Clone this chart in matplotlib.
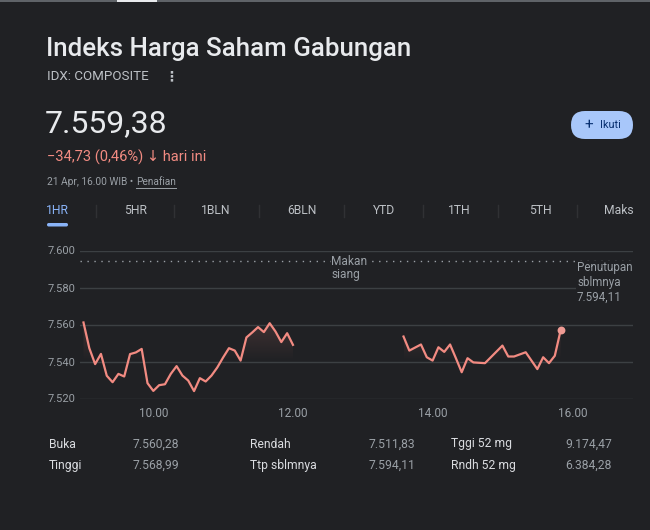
import matplotlib
matplotlib.use("Agg")
import matplotlib.pyplot as plt
import numpy as np
from matplotlib.patches import FancyBboxPatch, Rectangle
from matplotlib.path import Path
from matplotlib.patches import PathPatch

# data
pagi_jam = ["09:00", "09:05", "09:10", "09:15", "09:20", "09:25", "09:30", "09:35", "09:40",
            "09:45", "09:50", "09:55", "10:00", "10:05", "10:10", "10:15", "10:20", "10:25",
            "10:30", "10:35", "10:40", "10:45", "10:50", "10:55", "11:00", "11:05", "11:10",
            "11:15", "11:20", "11:25", "11:30", "11:35", "11:40", "11:45", "11:50", "11:55", "12:00"]
pagi_nilai = [7561.1, 7547.2, 7538.6, 7544.1, 7532.3, 7528.8, 7533.3, 7531.9, 7544.0,
              7544.9, 7546.8, 7528.3, 7524.1, 7527.2, 7527.7, 7533.3, 7537.5, 7532.4,
              7529.7, 7524.0, 7531.0, 7529.2, 7532.4, 7536.8, 7542.2, 7547.2, 7545.9,
              7540.5, 7553.0, 7555.7, 7558.6, 7555.9, 7560.7, 7556.2, 7550.5, 7555.3, 7549.0]
siang_jam = ["13:35", "13:40", "13:50", "13:55", "14:00", "14:05", "14:10", "14:15", "14:20",
             "14:25", "14:30", "14:35", "14:45", "15:00", "15:05", "15:10", "15:20", "15:30",
             "15:35", "15:40", "15:45", "15:50"]
siang_nilai = [7553.5, 7545.9, 7549.2, 7542.3, 7540.5, 7547.7, 7545.2, 7549.2, 7541.8,
               7534.2, 7541.8, 7539.5, 7539.1, 7548.6, 7542.7, 7542.7, 7545.0, 7535.9,
               7542.3, 7539.1, 7543.1, 7556.8]
tutup_kemarin = 7594.11
y_ticks = [7520, 7540, 7560, 7580, 7600]
y_labels = ["7.520", "7.540", "7.560", "7.580", "7.600"]
x_ticks = [10, 12, 14, 16]
x_labels = ["10.00", "12.00", "14.00", "16.00"]
tabs = ["1HR", "5HR", "1BLN", "6BLN", "YTD", "1TH", "5TH", "Maks"]
stat_kiri = [("Buka", "7.560,28"), ("Tinggi", "7.568,99")]
stat_tengah = [("Rendah", "7.511,83"), ("Ttp sblmnya", "7.594,11")]
stat_kanan = [("Tggi 52 mg", "9.174,47"), ("Rndh 52 mg", "6.384,28")]

BG = "#202124"
MERAH = "#f28b82"
ABU = "#9aa0a6"
PUTIH = "#e8eaed"
FONT = ["Roboto", "DejaVu Sans"]
plt.rcParams["font.family"] = FONT


def jam(s):
    h, m = s.split(":")
    return int(h) + int(m) / 60


W, H = 650, 530
fig = plt.figure(figsize=(6.5, 5.3), dpi=100, facecolor=BG)

# chart
ax = fig.add_axes([80 / W, 1 - 398.5 / H, 553 / W, 148 / H], facecolor=BG)
for s in ax.spines.values():
    s.set_visible(False)
for v in y_ticks:
    ax.axhline(v, color="#3c4043", lw=1, zorder=1)
ax.set_yticks(y_ticks, y_labels)
ax.set_xticks(x_ticks, x_labels)
ax.tick_params(length=0, colors=ABU, labelsize=8)
ax.tick_params(axis="y", pad=3)
ax.tick_params(axis="x", pad=6, labelsize=8.5)
ax.axhline(tutup_kemarin, color=ABU, lw=1, ls=(0, (1, 4)), zorder=2)

for jj, nn in [(pagi_jam, pagi_nilai), (siang_jam, siang_nilai)]:
    x = np.array([jam(s) for s in jj])
    y = np.array(nn)
    verts = list(zip(x, y)) + [(x[-1], 7520), (x[0], 7520)]
    clip = PathPatch(Path(verts), transform=ax.transData, facecolor="none", edgecolor="none")
    ax.add_patch(clip)
    grad = np.zeros((100, 1, 4))
    grad[..., :3] = matplotlib.colors.to_rgb(MERAH)
    grad[:, 0, 3] = np.linspace(0.16, 0.0, 100)
    im = ax.imshow(grad, extent=[x[0], x[-1], 7540, 7562], origin="upper", aspect="auto", zorder=2)
    im.set_clip_path(clip)
    ax.plot(x, y, color=MERAH, lw=1.6, zorder=3, solid_joinstyle="round")
ax.set_xlim(8.95, 16.87)
ax.set_ylim(7520, 7600)
ax.scatter([jam(siang_jam[-1])], [siang_nilai[-1]], s=32, color="#ee9a93", zorder=4, lw=0)

ax.text(12.55, tutup_kemarin + 3.4, "Makan\nsiang", color=ABU, fontsize=8.6, va="top", ha="left",
        linespacing=1.0, bbox=dict(facecolor=BG, edgecolor="none", pad=0.6))

# overlay in pixel units for everything around the chart
ov = fig.add_axes([0, 0, 1, 1], facecolor="none")
ov.set_zorder(5)
ov.set_xlim(0, W)
ov.set_ylim(H, 0)
ov.axis("off")


def tulis(x, y, s, **kw):
    kw.setdefault("va", "center")
    return ov.text(x, y, s, **kw)


tulis(577, 282.5, "Penutupan\nsblmnya\n7.594,11", color=ABU, fontsize=8.4, linespacing=1.15,
      bbox=dict(facecolor=BG, edgecolor="none", pad=0.5))

# browser strip at top
ov.add_patch(Rectangle((0, 0), W, 2, color="#5f6368", lw=0))
ov.add_patch(Rectangle((117, 0), 40, 2, color="#e8eaed", lw=0))

# header
tulis(46, 49, "Indeks Harga Saham Gabungan", color=PUTIH, fontsize=18.6, fontweight="medium")
tulis(47, 77, "IDX: COMPOSITE", color="#bdc1c6", fontsize=9.6)
tulis(164, 76, "⋮", color="#bdc1c6", fontsize=10, family=["DejaVu Sans"], fontweight="bold")
tulis(45, 124, "7.559,38", color=PUTIH, fontsize=23)
tulis(47, 157, "−34,73 (0,46%) ↓ hari ini", color=MERAH, fontsize=10.5)
t1 = tulis(47, 182, "21 Apr, 16.00 WIB • ", color=ABU, fontsize=7.3)
fig.canvas.draw()
inv = ov.transData.inverted()
x_pen = inv.transform((t1.get_window_extent().x1, 0))[0]
pen = tulis(x_pen, 182, "Penafian", color=ABU, fontsize=7.3)
fig.canvas.draw()
bb = pen.get_window_extent()
(p0, _), (p1, _) = inv.transform([(bb.x0, 0), (bb.x1, 0)])
ov.plot([p0, p1], [188, 188], color=ABU, lw=0.7)

# Ikuti button
ov.add_patch(FancyBboxPatch((571, 111), 62, 28, boxstyle="round,pad=0,rounding_size=14",
                            facecolor="#a8c7fa", edgecolor="none"))
tulis(589, 125, "+", color="#062e6f", fontsize=11, ha="center")
tulis(600, 125.5, "Ikuti", color="#062e6f", fontsize=7.8)

# tabs
tab_x = [57, 136, 216, 302, 384, 459, 540, 619]
sep_x = [96, 174, 259, 344, 423, 498, 577]
for i, t in enumerate(tabs):
    tulis(tab_x[i], 211, t, ha="center", color="#8ab4f8" if i == 0 else "#bdc1c6", fontsize=8.7)
for sx in sep_x:
    ov.plot([sx, sx], [205, 217], color="#303134", lw=1)
ov.add_patch(FancyBboxPatch((47, 223), 21, 3.5, boxstyle="round,pad=0,rounding_size=1.7",
                            facecolor="#8ab4f8", edgecolor="none"))

# stats
for kol, (lx, vx, ha) in zip([stat_kiri, stat_tengah, stat_kanan],
                             [(49, 133, "left"), (250, 415, "right"), (451, 612, "right")]):
    for r, (lab, val) in enumerate(kol):
        yy = 444 + r * 21
        tulis(lx, yy, lab, color="#dadce0", fontsize=8.7)
        tulis(vx, yy, val, color=ABU, fontsize=8.7, ha=ha)

fig.savefig("out.png", dpi=100, facecolor=BG)
